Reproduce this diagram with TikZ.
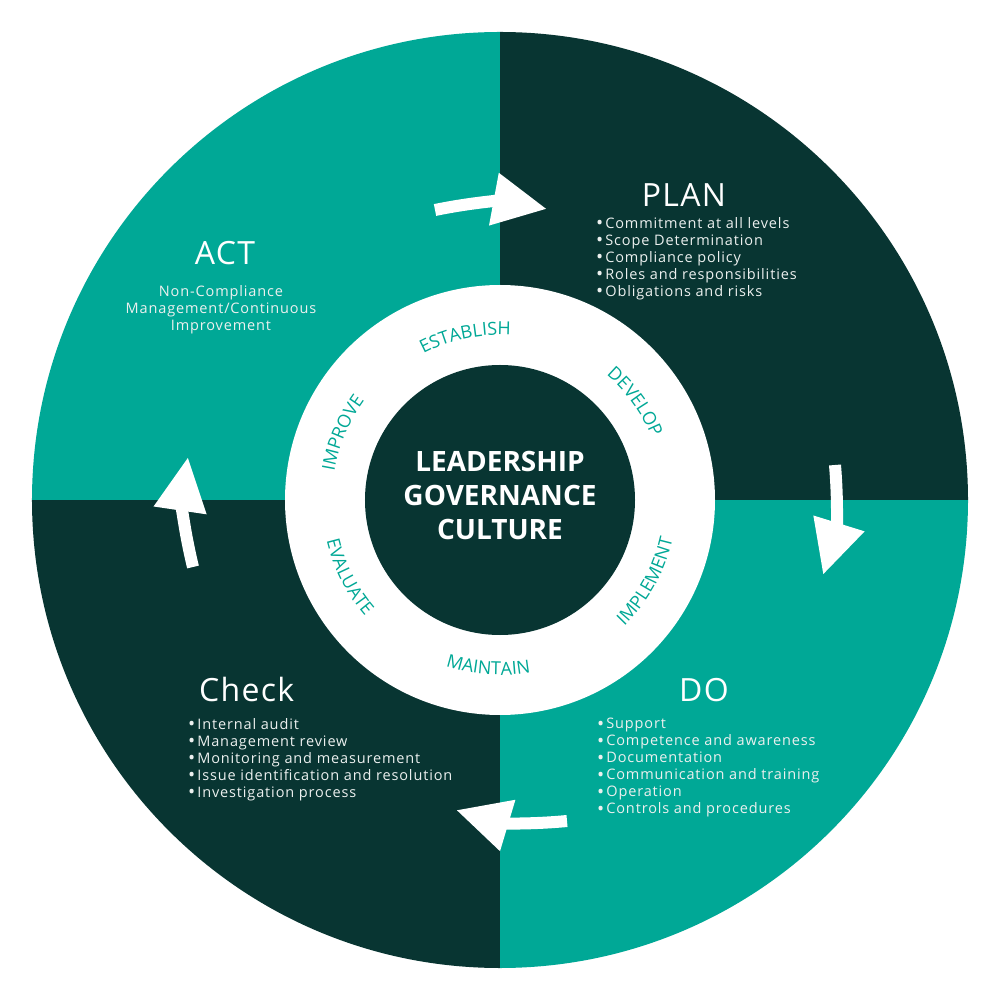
\documentclass[tikz,border=0pt]{standalone}
\usepackage{fontspec}
\setmainfont{Open Sans}
\newfontfamily\headfont[LetterSpace=4]{Open Sans}
\newfontfamily\listfont[LetterSpace=6]{Open Sans}
\newfontfamily\ringfont{Open Sans}
\usetikzlibrary{arrows.meta,decorations.text}
\definecolor{pdcateal}{RGB}{0,168,150}
\definecolor{pdcadark}{RGB}{8,53,50}
\definecolor{pdcatext}{RGB}{236,240,239}
\newcommand{\ringsize}{\ringfont\fontsize{18}{18}\selectfont}
\newcommand{\dotitem}{\raisebox{-1.5pt}{\fontsize{19}{17}\selectfont •}\kern2pt}
\tikzset{
  phase/.style={text=white, font=\headfont\fontsize{32}{38}\selectfont, inner sep=0pt},
  items/.style={text=pdcatext, font=\listfont\fontsize{14.5}{17}\selectfont, align=left, inner sep=0pt},
  cyclearrow/.style={draw=white, line width=12pt, -{Triangle[length=54pt,width=50pt]}},
  ringword/.style={decorate, decoration={text along path, text align=center, text color=pdcateal}}
}

\begin{document}
\begin{tikzpicture}[x=1pt, y=1pt]
	\useasboundingbox[fill=white] (-500,-500) rectangle (500,500);
	\begin{scope}
		\clip (0,0) circle (468);
		\fill[pdcateal] (-500,0) rectangle (0,500);
		\fill[pdcadark] (0,0) rectangle (500,500);
		\fill[pdcadark] (-500,-500) rectangle (0,0);
		\fill[pdcateal] (0,-500) rectangle (500,0);
	\end{scope}
	\fill[white] (0,0) circle (215);
	\fill[pdcadark] (0,0) circle (135);
	\node[text=white, font=\bfseries\fontsize{28}{34}\selectfont, align=center] (core) at (0,4) {LEADERSHIP\\GOVERNANCE\\CULTURE};
	\path[ringword, decoration={text={|\ringsize|ESTABLISH}}] (142:165) arc[start angle=142, end angle=62, radius=165];
	\path[ringword, decoration={text={|\ringsize|DEVELOP}}] (76:164) arc[start angle=76, end angle=-4, radius=164];
	\path[ringword, decoration={text={|\ringsize|IMPROVE}}] (197:168) arc[start angle=197, end angle=117, radius=168];
	\path[ringword, decoration={text={|\ringsize|IMPLEMENT}}] (-69:177) arc[start angle=-69, end angle=11, radius=177];
	\path[ringword, decoration={text={|\ringsize|MAINTAIN}}] (-134:175) arc[start angle=-134, end angle=-54, radius=175];
	\path[ringword, decoration={text={|\ringsize|EVALUATE}}] (-193:178) arc[start angle=-193, end angle=-113, radius=178];
	\coordinate (topfrom) at (-65,290);
	\coordinate (topto) at (47,291);
	\coordinate (rightfrom) at (335,35);
	\coordinate (rightto) at (323,-75);
	\coordinate (bottomfrom) at (67,-321);
	\coordinate (bottomto) at (-44,-310);
	\coordinate (leftfrom) at (-307,-67);
	\coordinate (leftto) at (-312,43);
	\draw[cyclearrow] (topfrom) to[bend left=11] (topto);
	\draw[cyclearrow] (rightfrom) to[bend left=11] (rightto);
	\draw[cyclearrow] (bottomfrom) to[bend left=11] (bottomto);
	\draw[cyclearrow] (leftfrom) to[bend left=11] (leftto);
	\node[phase, anchor=base] (plan) at (184,293) {PLAN};
	\node[items, anchor=north west] (planlist) at (96,283) {\dotitem Commitment at all levels\\\dotitem Scope Determination\\\dotitem Compliance policy\\\dotitem Roles and responsibilities\\\dotitem Obligations and risks};
	\node[phase, anchor=base] (act) at (-275,235) {ACT};
	\node[items, align=center, anchor=north] (actlist) at (-279,215) {Non-Compliance\\Management/Continuous\\Improvement};
	\node[phase, anchor=base west] (check) at (-301,-201) {Check};
	\node[items, anchor=north west] (checklist) at (-312,-218) {\dotitem Internal audit\\\dotitem Management review\\\dotitem Monitoring and measurement\\\dotitem Issue identification and resolution\\\dotitem Investigation process};
	\node[phase, anchor=base] (do) at (204,-201) {DO};
	\node[items, anchor=north west] (dolist) at (97,-218) {\dotitem Support\\\dotitem Competence and awareness\\\dotitem Documentation\\\dotitem Communication and training\\\dotitem Operation\\\dotitem Controls and procedures};
\end{tikzpicture}
\end{document}
